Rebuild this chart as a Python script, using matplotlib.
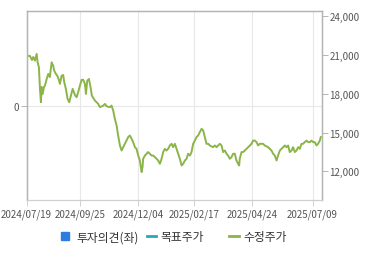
import numpy as np
import matplotlib
matplotlib.use("Agg")
import matplotlib.pyplot as plt
from matplotlib.lines import Line2D

plt.rcParams['font.family'] = ['Noto Sans CJK KR', 'DejaVu Sans']

# trading-day index since 2024/07/19 and adjusted close (수정주가)
days = [0, 0.3, 2.8, 4.5, 5.6, 7, 8.5, 9.3, 10.4, 11.3, 12.1, 12.7, 13.6, 14.7, 15.5,
        17, 18.3, 19.7, 21.2, 22.5, 23.4, 24.8, 25.9, 27.1, 28.2, 29.7, 31, 31.9, 33.3,
        34.7, 36.1, 37.5, 39, 40.1, 41.2, 42.4, 43.7, 45.2, 46.6, 48, 49.4, 50.3, 51.4,
        52.8, 54.2, 55.3, 57.9, 60.7, 62.1, 64.7, 66.4, 67.8, 69.2, 70.6, 72, 73.4, 74.8,
        76.3, 77.6, 79.1, 80.5, 81.9, 83.3, 84.7, 86.1, 87.5, 89, 90.3, 91.8, 93.2, 94.6,
        96, 97.5, 98.3, 98.8, 100.3, 101.7, 103, 104.5, 105.9, 107.3, 108.7, 110.2, 111.5,
        113, 114.4, 115.8, 117.2, 118.6, 120, 121.4, 122.9, 124.2, 125.7, 127.1, 128.5,
        129.9, 131.4, 132.7, 134.2, 135.6, 136.9, 138.4, 139.8, 141.2, 142.6, 144.1, 145.4,
        146.9, 148.3, 149.7, 151.1, 152.5, 154, 155.3, 158.1, 159.6, 161, 162.4, 163.8,
        165.3, 166.6, 168.1, 169.5, 170.8, 172.3, 173.7, 175.1, 176.5, 177.9, 179.3, 180.2,
        180.7, 182.2, 183.6, 185, 187.8, 189.2, 190.7, 192, 193.5, 194.9, 196.3, 197.7,
        200.5, 201.9, 204.7, 206.2, 207.6, 209, 210.4, 211.9, 213.2, 214.7, 216.1, 217.5,
        218.9, 220.3, 221.7, 223.1, 224.6, 225.9, 227.4, 228.8, 230.2, 231.6, 233.1, 234.4,
        235.8, 237.3, 238.6, 240.1, 241.5, 242.9, 244.3, 245.8, 247.1, 248.6, 249.4]
prices = [22250, 20950, 20930, 20620, 20850, 20570, 21090, 20440, 20060, 18380, 17350,
          18530, 17990, 18530, 18640, 19150, 19540, 19300, 20440, 20180, 19790, 19540,
          19410, 19150, 18770, 19410, 19460, 18900, 18380, 17610, 17350, 17860, 18380,
          18130, 17860, 17740, 18130, 18640, 19080, 19080, 18770, 17990, 19020, 19150,
          18510, 17860, 17480, 17220, 16970, 17070, 17220, 17040, 16990, 16970, 17090,
          16700, 16060, 15540, 14770, 14000, 13610, 13870, 14130, 14380, 14650, 14770,
          14520, 14260, 13870, 13740, 13220, 12840, 11940, 12350, 12970, 13220, 13360,
          13490, 13360, 13220, 13220, 13100, 12970, 12840, 12580, 12970, 13490, 13740,
          13610, 13740, 14000, 14130, 13870, 14130, 13740, 13360, 12970, 12450, 12580,
          12840, 12970, 13360, 13220, 13490, 14130, 14380, 14650, 14770, 15030, 15290,
          15160, 14650, 14130, 14130, 14000, 13870, 14000, 13870, 14000, 14130, 14000,
          13490, 13610, 13360, 13220, 12970, 13100, 13360, 13360, 12840, 12580, 12450,
          12970, 13490, 13490, 13610, 13870, 14000, 14130, 14380, 14380, 14260, 14000,
          14130, 14130, 14000, 13870, 13740, 13610, 13360, 13220, 12840, 13220, 13610,
          13740, 13870, 14000, 13870, 14000, 13490, 13610, 13870, 13490, 13610, 13870,
          13740, 14130, 14130, 14260, 14380, 14260, 14260, 14380, 14260, 14260, 14000,
          14130, 14380, 14650]

tick_days = [0, 45.4, 94.6, 142, 191.5, 242.4]
tick_labels = ['2024/07/19', '2024/09/25', '2024/12/04', '2025/02/17', '2025/04/24', '2025/07/09']
right_ticks = [12000, 15000, 18000, 21000, 24000]
legend_labels = ['투자의견(좌)', '목표주가', '수정주가']

green = '#8bb548'
teal = '#26a9b8'
blue = '#2b7de0'
spine_c = '#b4b4b4'
grid_c = '#e8e8e8'
text_c = '#555555'

fig = plt.figure(figsize=(3.7, 2.55), dpi=100)
ax = fig.add_axes([0.072, 0.2118, 0.7975, 0.74])
ax2 = ax.twinx()

# left axis: 투자의견 (no data, only 0 line)
ax.set_ylim(-1, 1)
ax.set_yticks([0])
ax.set_yticklabels(['0'])
ax.set_xlim(0, 250.2)
ax.set_xticks(tick_days)
ax.set_xticklabels(tick_labels)
ax.grid(True, axis='both', color=grid_c, linewidth=0.8)
ax.set_axisbelow(True)

ax2.plot(days, prices, color=green, linewidth=1.4, solid_joinstyle='round')
ax2.set_ylim(9780, 24390)
ax2.set_yticks(right_ticks)
ax2.set_yticklabels([f'{v:,}' for v in right_ticks])

for a in (ax, ax2):
    for s in ('left', 'right', 'top'):
        a.spines[s].set_color(spine_c)
        a.spines[s].set_linewidth(0.9)
    a.spines['bottom'].set_color('#d0d0d0')
    a.spines['bottom'].set_linewidth(0.8)
    a.tick_params(colors=text_c, labelsize=7, length=4, width=0.7, pad=1.5)
    a.tick_params(axis='both', color=spine_c)
ax.tick_params(axis='x', color='#d0d0d0', pad=2)

# legend entries placed one by one like the original widget
handles = [Line2D([], [], color=blue, marker='s', markersize=6, linestyle='none'),
           Line2D([], [], color=teal, linewidth=2),
           Line2D([], [], color=green, linewidth=2)]
anchors = [0.162, 0.396, 0.62]
pads = [0.6, 0.35, 0.4]
for h, lab, x0, pad in zip(handles, legend_labels, anchors, pads):
    fig.legend(handles=[h], labels=[lab], loc='center left', bbox_to_anchor=(x0, 0.067),
               frameon=False, fontsize=8.5, handlelength=0.8, handletextpad=pad,
               borderpad=0, borderaxespad=0, labelcolor='#333333')

fig.savefig('out.png', dpi=100)
